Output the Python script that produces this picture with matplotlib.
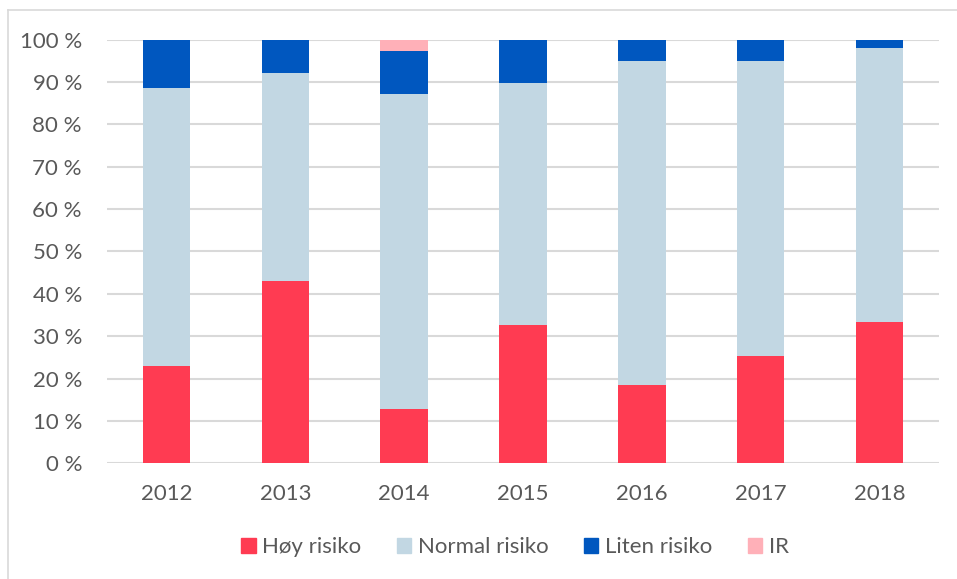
import numpy as np
import matplotlib.pyplot as plt
from matplotlib.lines import Line2D

years = ["2012", "2013", "2014", "2015", "2016", "2017", "2018"]
hoy = [23.0, 43.1, 12.7, 32.6, 18.5, 25.3, 33.3]
normal = [65.5, 49.1, 74.5, 57.1, 76.4, 69.7, 64.7]
liten = [11.5, 7.8, 10.2, 10.3, 5.1, 5.0, 2.0]
ir = [0.0, 0.0, 2.6, 0.0, 0.0, 0.0, 0.0]

series = [
    ("Høy risiko", hoy, "#FF3B52"),
    ("Normal risiko", normal, "#C2D7E3"),
    ("Liten risiko", liten, "#0057BF"),
    ("IR", ir, "#FFB0B8"),
]

plt.rcParams["font.family"] = ["Lato", "DejaVu Sans"]
text_color = "#595959"
fs = 16

fig = plt.figure(figsize=(9.57, 5.79), dpi=100)
ax = fig.add_axes([107 / 957, 0.2, (939 - 107) / 957, 0.7314])

x = np.arange(len(years))
bottom = np.zeros(len(years))
for label, vals, color in series:
    ax.bar(x, vals, width=0.4, bottom=bottom, color=color, label=label,
           linewidth=0, zorder=3)
    bottom += np.array(vals)

ax.set_xlim(-0.5, len(years) - 0.5)
ax.set_ylim(0, 100)
ax.set_yticks(range(0, 101, 10))
ax.set_yticklabels([f"{v} %" for v in range(0, 101, 10)])
ax.set_xticks(x)
ax.set_xticklabels(years)
ax.yaxis.grid(True, color="#D9D9D9", linewidth=1.5, zorder=0)
ax.set_axisbelow(True)
for s in ax.spines.values():
    s.set_visible(False)
ax.tick_params(length=0, labelsize=fs, colors=text_color)
ax.tick_params(axis="y", pad=18)
ax.tick_params(axis="x", pad=15)

handles = [plt.Rectangle((0, 0), 1, 1, color=c) for _, _, c in series]
fig.legend(handles, [s[0] for s in series], loc="center",
           bbox_to_anchor=(515 / 957, 1 - 547 / 579), ncol=4, frameon=False,
           fontsize=fs, labelcolor=text_color, handlelength=0.64,
           handleheight=0.64, handletextpad=0.3, columnspacing=1.6)

# chart frame (top and left edges)
fig.add_artist(Line2D([8 / 957, 1], [1 - 10 / 579] * 2, color="#D9D9D9", lw=1.2))
fig.add_artist(Line2D([8 / 957] * 2, [0, 1 - 10 / 579], color="#D9D9D9", lw=1.2))

fig.savefig("out.png", dpi=100)
